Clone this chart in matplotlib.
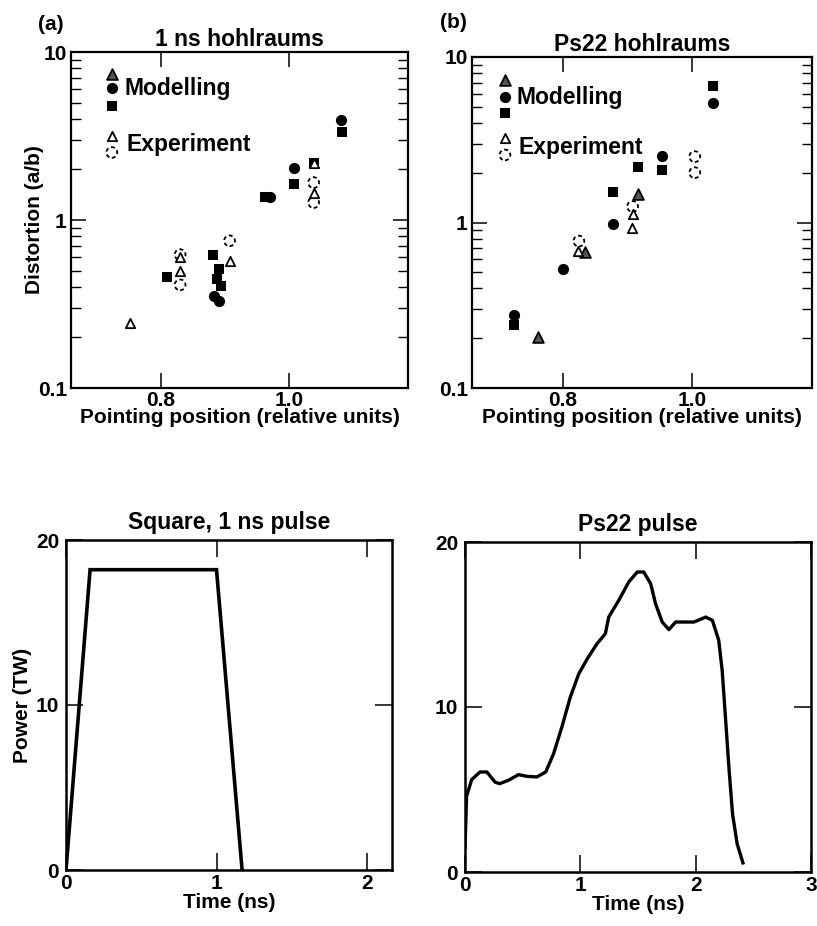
import numpy as np
import matplotlib
matplotlib.use('Agg')
import matplotlib.pyplot as plt
from matplotlib import ticker

plt.rcParams['font.family'] = ['Liberation Sans', 'DejaVu Sans']
plt.rcParams['font.weight'] = 'bold'
plt.rcParams['axes.labelweight'] = 'bold'
plt.rcParams['axes.titleweight'] = 'bold'

# ==========================================
# (a) 1 ns hohlraums
# ==========================================
a_mod_sq_x = [0.810, 0.881, 0.891, 0.887, 0.894, 0.962, 1.007, 1.082, 1.038]
a_mod_sq_y = [0.457, 0.617, 0.513, 0.447, 0.402, 1.38, 1.64, 3.34, 2.19]
a_mod_ci_x = [0.883, 0.891, 0.970, 1.007, 1.081]
a_mod_ci_y = [0.355, 0.331, 1.38, 2.04, 3.94]
a_mod_tr_x = []
a_mod_tr_y = []
a_exp_tr_x = [0.752, 0.830, 0.830, 0.907, 1.038, 1.038]
a_exp_tr_y = [0.245, 0.60, 0.497, 0.57, 1.445, 2.19]
a_exp_ci_x = [0.830, 0.830, 0.907, 1.038, 1.038]
a_exp_ci_y = [0.622, 0.411, 0.752, 1.67, 1.27]

# ==========================================
# (b) Ps22 hohlraums
# ==========================================
b_mod_sq_x = [0.725, 0.877, 0.916, 0.954, 1.032]
b_mod_sq_y = [0.239, 1.53, 2.17, 2.07, 6.71]
b_mod_ci_x = [0.725, 0.800, 0.877, 0.953, 1.032]
b_mod_ci_y = [0.277, 0.523, 0.986, 2.52, 5.30]
b_mod_tr_x = [0.762, 0.834, 0.916]
b_mod_tr_y = [0.204, 0.66, 1.48]
b_exp_tr_x = [0.824, 0.908, 0.907]
b_exp_tr_y = [0.67, 1.13, 0.93]
b_exp_ci_x = [0.825, 0.908, 1.004, 1.004]
b_exp_ci_y = [0.772, 1.25, 2.50, 2.00]

# ==========================================
# pulse shapes
# ==========================================
sq_t = [0.0, 0.16, 1.0, 1.17]
sq_p = [0.0, 18.2, 18.2, 0.0]

ps22_t = [0.0, 0.014, 0.058, 0.13, 0.19, 0.26, 0.30, 0.377, 0.464, 0.536, 0.623,
          0.70, 0.768, 0.84, 0.913, 0.986, 1.058, 1.145, 1.217, 1.246, 1.333,
          1.42, 1.493, 1.55, 1.61, 1.652, 1.71, 1.768, 1.826, 1.899, 1.986,
          2.087, 2.145, 2.20, 2.23, 2.26, 2.29, 2.32, 2.36, 2.41]
ps22_p = [1.5, 4.6, 5.6, 6.06, 6.06, 5.45, 5.35, 5.56, 5.9, 5.8, 5.76,
          6.06, 7.17, 8.79, 10.6, 12.0, 12.9, 13.84, 14.44, 15.45, 16.46,
          17.58, 18.18, 18.18, 17.47, 16.26, 15.15, 14.69, 15.15, 15.15, 15.15,
          15.45, 15.25, 14.04, 12.2, 9.2, 6.16, 3.5, 1.7, 0.55]

FS_TICK = 15
FS_LAB = 15
FS_TITLE = 16.5
DASH = (0, (2.2, 1.6))
W = 817
H = 926


def px_axes(l, t, r, b):
    return fig.add_axes([l / W, 1 - b / H, (r - l) / W, (b - t) / H])


def scatter_sets(ax, mod_sq, mod_ci, mod_tr, exp_tr, exp_ci):
    ax.scatter(*mod_sq, marker='s', s=55, c='black', lw=0, zorder=3)
    ax.scatter(*mod_ci, marker='o', s=65, c='black', lw=0, zorder=3)
    ax.scatter(*mod_tr, marker='^', s=60, facecolors='#555555', edgecolors='black', lw=1.3, zorder=4)
    ax.scatter(*exp_tr, marker='^', s=45, facecolors='white', edgecolors='black', lw=1.3, zorder=5)
    ax.scatter(*exp_ci, marker='o', s=60, facecolors='white', edgecolors='black', lw=1.3,
               linestyles=[DASH], zorder=4)


def legend_stack(ax, x, ys_mod, y_mod_txt, ys_exp, y_exp_txt, tx_mod, tx_exp):
    tr = ax.transAxes
    ax.scatter([x], [ys_mod[0]], marker='^', s=60, facecolors='#555555', edgecolors='black',
               lw=1.3, transform=tr)
    ax.scatter([x], [ys_mod[1]], marker='o', s=65, c='black', lw=0, transform=tr)
    ax.scatter([x], [ys_mod[2]], marker='s', s=55, c='black', lw=0, transform=tr)
    ax.scatter([x], [ys_exp[0]], marker='^', s=45, facecolors='white', edgecolors='black',
               lw=1.3, transform=tr)
    ax.scatter([x], [ys_exp[1]], marker='o', s=60, facecolors='white', edgecolors='black',
               lw=1.3, linestyles=[DASH], transform=tr)
    ax.text(tx_mod, y_mod_txt, 'Modelling', transform=tr, fontsize=FS_TITLE, va='center')
    ax.text(tx_exp, y_exp_txt, 'Experiment', transform=tr, fontsize=FS_TITLE, va='center')


def style_log(ax):
    ax.set_yscale('log')
    ax.set_ylim(0.1, 10)
    ax.set_xlim(0.66, 1.185)
    ax.set_xticks([0.8, 1.0])
    ax.xaxis.set_major_formatter(ticker.FormatStrFormatter('%.1f'))
    ax.yaxis.set_major_formatter(ticker.FuncFormatter(lambda v, p: f'{v:g}'))
    ax.yaxis.set_minor_formatter(ticker.NullFormatter())
    ax.tick_params(which='both', direction='in', top=True, right=True, labelsize=FS_TICK)
    ax.tick_params(which='major', length=11, width=1.1, pad=3)
    ax.tick_params(axis='x', pad=2)
    ax.tick_params(which='minor', length=7, width=1.0)
    ax.set_xlabel('Pointing position (relative units)', fontsize=FS_LAB, labelpad=-1)
    for s in ax.spines.values():
        s.set_linewidth(1.6)


def style_lin(ax, xmax, xt):
    ax.set_xlim(0, xmax)
    ax.set_ylim(0, 20)
    ax.set_xticks(xt)
    ax.set_yticks([0, 10, 20])
    ax.tick_params(direction='in', top=True, right=True, length=12, width=1.1, labelsize=FS_TICK)
    ax.tick_params(axis='x', pad=3)
    ax.tick_params(axis='y', pad=5)
    ax.set_xlabel('Time (ns)', fontsize=FS_LAB, labelpad=0)
    for s in ax.spines.values():
        s.set_linewidth(1.8)


fig = plt.figure(figsize=(8.17, 9.26), dpi=100)

# ---- (a)
ax1 = px_axes(71, 52, 408, 388)
style_log(ax1)
scatter_sets(ax1, (a_mod_sq_x, a_mod_sq_y), (a_mod_ci_x, a_mod_ci_y), (a_mod_tr_x, a_mod_tr_y),
             (a_exp_tr_x, a_exp_tr_y), (a_exp_ci_x, a_exp_ci_y))
legend_stack(ax1, 0.121, [0.934, 0.893, 0.839], 0.89, [0.749, 0.701], 0.725, 0.158, 0.166)
ax1.set_title('1 ns hohlraums', fontsize=FS_TITLE, pad=4)
ax1.set_ylabel('Distortion (a/b)', fontsize=FS_LAB)
ax1.yaxis.set_label_coords(-0.08, 0.5)
fig.text(51 / W, 1 - 25 / H, '(a)', fontsize=FS_LAB, ha='center', va='center')

# ---- (b)
ax2 = px_axes(472, 57, 812, 388)
style_log(ax2)
scatter_sets(ax2, (b_mod_sq_x, b_mod_sq_y), (b_mod_ci_x, b_mod_ci_y), (b_mod_tr_x, b_mod_tr_y),
             (b_exp_tr_x, b_exp_tr_y), (b_exp_ci_x, b_exp_ci_y))
legend_stack(ax2, 0.097, [0.93, 0.88, 0.832], 0.877, [0.755, 0.704], 0.727, 0.132, 0.138)
ax2.set_title('Ps22 hohlraums', fontsize=FS_TITLE, pad=4)
fig.text(453 / W, 1 - 23 / H, '(b)', fontsize=FS_LAB, ha='center', va='center')

# ---- (c)
ax3 = px_axes(66, 540, 392, 870)
style_lin(ax3, 2.166, [0, 1, 2])
ax3.plot(sq_t, sq_p, color='black', lw=2.6, solid_joinstyle='miter')
ax3.set_title('Square, 1 ns pulse', fontsize=FS_TITLE, pad=8)
ax3.set_ylabel('Power (TW)', fontsize=FS_LAB)
ax3.yaxis.set_label_coords(-0.104, 0.5)

# ---- (d)
ax4 = px_axes(465, 542, 811, 872)
style_lin(ax4, 3, [0, 1, 2, 3])
ax4.plot(ps22_t, ps22_p, color='black', lw=2.4)
ax4.set_title('Ps22 pulse', fontsize=FS_TITLE, pad=8)

fig.savefig('out.png', dpi=100)
